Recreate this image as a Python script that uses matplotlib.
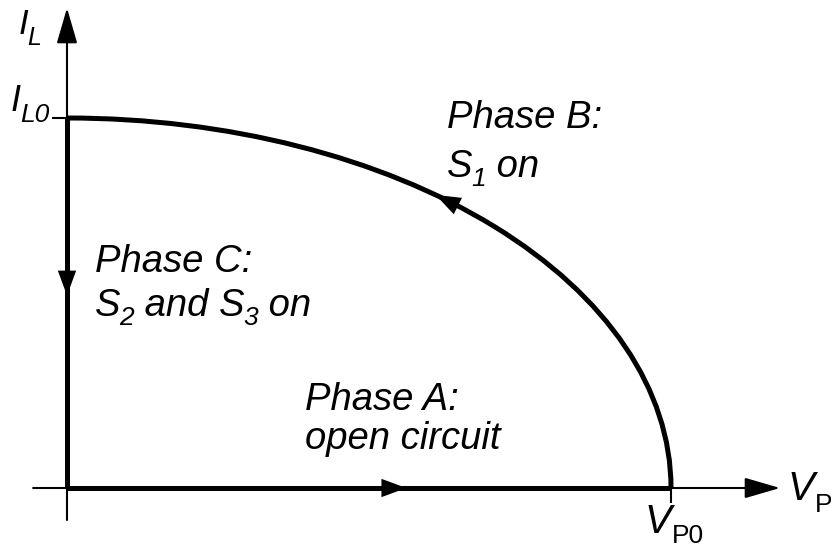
import matplotlib
matplotlib.use("Agg")
import matplotlib.pyplot as plt
from matplotlib.patches import Arc, FancyArrowPatch
import numpy as np

plt.rcParams['font.family'] = ['Liberation Sans', 'DejaVu Sans']

# Operating point values (normalised)
V_P0 = 1.0          # peak voltage at end of phase A
I_L0 = 1.0          # initial inductor current

# Trajectory segments in the (V_P, I_L) plane
phase_A_v = [0.0, V_P0]     # open circuit: voltage rises, zero current
phase_A_i = [0.0, 0.0]
phase_C_v = [0.0, 0.0]      # S2, S3 on: current falls at zero voltage
phase_C_i = [I_L0, 0.0]

# Direction markers: (start point, end point) along each phase
dir_A = ((0.51, 0.0), (0.562, 0.0))
dir_C = ((0.0, 0.59), (0.0, 0.52))
dir_B_angle = (49.0, 52.4)   # parametric angles on the elliptic arc (deg)

# Axis extents
x_axis = (-0.056, 1.1805)
y_axis = (-0.0865, 1.2973)

W, H = 831, 550
fig = plt.figure(figsize=(W / 100, H / 100), dpi=100)
ax = fig.add_axes([0, 0, 1, 1])
ax.set_xlim(-67 / 604, (W - 67) / 604)
ax.set_ylim(-(H - 488) / 370, 488 / 370)
ax.axis('off')

thin = 1.5
thick = 3.6

# Axes with arrowheads
axis_style = '-|>,head_length=1.1,head_width=0.32'
ax.add_patch(FancyArrowPatch((x_axis[0], 0), (x_axis[1], 0), arrowstyle=axis_style,
                             mutation_scale=20, lw=thin, color='black',
                             shrinkA=0, shrinkB=0, zorder=2))
ax.add_patch(FancyArrowPatch((0, y_axis[0]), (0, y_axis[1]), arrowstyle=axis_style,
                             mutation_scale=20, lw=thin, color='black',
                             shrinkA=0, shrinkB=0, zorder=2))

# Ticks at I_L0 and V_P0
ax.plot([-15 / 604, 0], [I_L0, I_L0], color='black', lw=thin, solid_capstyle='butt')
ax.plot([V_P0, V_P0], [0, -15 / 370], color='black', lw=thin, solid_capstyle='butt')

# Phase A and phase C segments
ax.plot(phase_A_v, phase_A_i, color='black', lw=thick, solid_capstyle='butt', zorder=3)
ax.plot(phase_C_v, phase_C_i, color='black', lw=thick, solid_capstyle='butt', zorder=3)

# Phase B: quarter ellipse from (V_P0, 0) to (0, I_L0)
ax.add_patch(Arc((0, 0), 2 * V_P0, 2 * I_L0, theta1=0, theta2=90,
                 color='black', lw=thick, zorder=3))

# Direction arrows
mark_style = '-|>,head_length=0.9,head_width=0.33'
for (p0, p1) in (dir_A, dir_C):
    ax.add_patch(FancyArrowPatch(p0, p1, arrowstyle=mark_style, mutation_scale=20,
                                 lw=0, color='black', shrinkA=0, shrinkB=0, zorder=4))
t0, t1 = np.radians(dir_B_angle)
ax.add_patch(FancyArrowPatch((V_P0 * np.cos(t0), I_L0 * np.sin(t0)),
                             (V_P0 * np.cos(t1), I_L0 * np.sin(t1)),
                             arrowstyle=mark_style, mutation_scale=20, lw=0,
                             color='black', shrinkA=0, shrinkB=0, zorder=4))

# Text runs composed piece by piece so subscripts sit where wanted
renderer = fig.canvas.get_renderer()


def put(x, y, parts):
    """parts: list of (text, fontsize, style, baseline drop in px, gap before in px)."""
    cx = x
    for s, size, style, drop, gap in parts:
        cx += gap
        t = fig.text(cx / W, 1 - (y + drop) / H, s, fontsize=size, style=style,
                     ha='left', va='baseline')
        bb = t.get_window_extent(renderer)
        cx += bb.width


ps = 27.5   # phase label size
ss = 19     # subscript size
put(447, 128, [('Phase B:', ps, 'italic', 0, 0)])
put(447, 177, [('S', ps, 'italic', 0, 0), ('1', ss, 'italic', 9, -1),
               (' on', ps, 'italic', 0, 0)])
put(95, 272, [('Phase C:', ps, 'italic', 0, 0)])
put(95, 316, [('S', ps, 'italic', 0, 0), ('2', ss, 'italic', 9, -1),
              (' and ', ps, 'italic', 0, 0), ('S', ps, 'italic', 0, 0),
              ('3', ss, 'italic', 9, -1), (' on', ps, 'italic', 0, 0)])
put(305, 410, [('Phase A:', ps, 'italic', 0, 0)])
put(305, 449, [('open circuit', ps, 'italic', 0, 0)])

put(19, 34, [('I', 25, 'italic', 0, 0), ('L', 18, 'italic', 11, -1)])
put(11, 111, [('I', 26, 'italic', 0, 0), ('L0', 19, 'italic', 11, -1)])
put(788, 500, [('V', 29, 'italic', 0, 0), ('P', 19, 'normal', 12, 0)])
put(645, 533, [('V', 29, 'italic', 0, 0), ('P0', 19, 'normal', 10, 0)])

fig.savefig('out.png', dpi=100)
